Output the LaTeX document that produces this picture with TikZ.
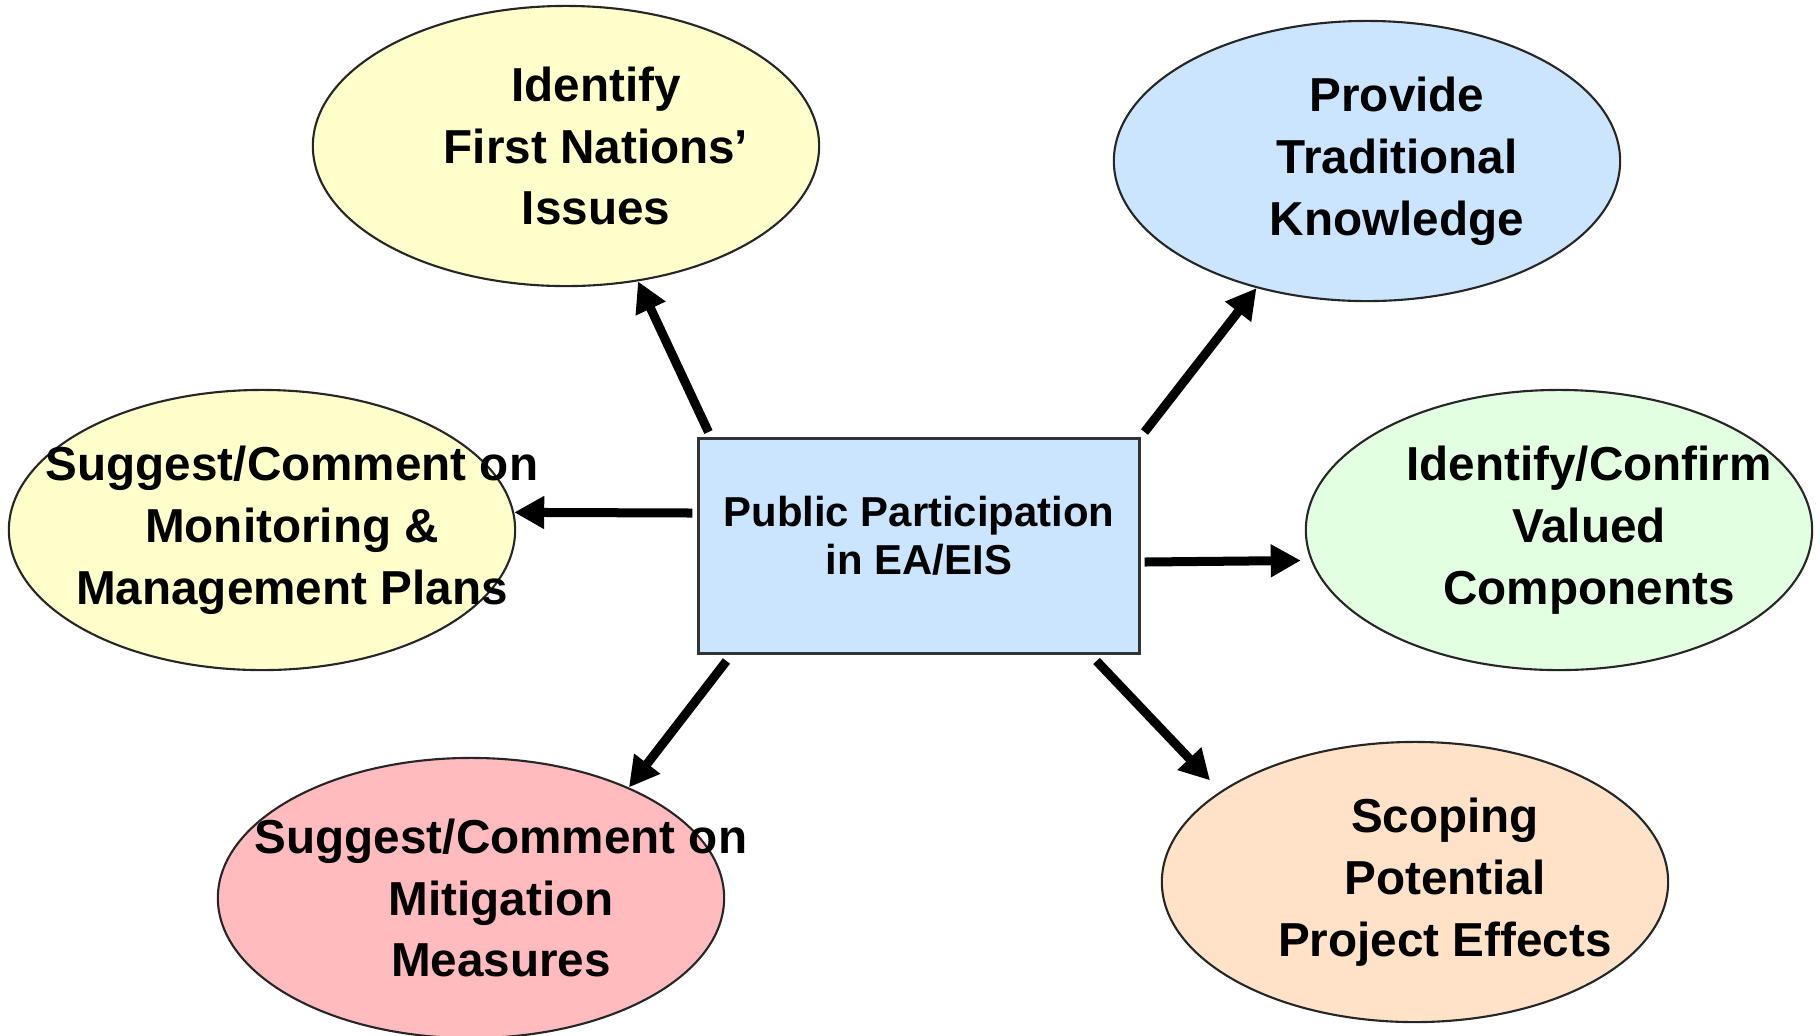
\documentclass[tikz,border=0pt]{standalone}
\usepackage{fontspec}
\setmainfont{Liberation Sans}
\usetikzlibrary{shapes.geometric,arrows.meta}

\definecolor{boxblue}{RGB}{204,229,255}
\definecolor{paleyellow}{RGB}{255,255,204}
\definecolor{palegreen}{RGB}{226,255,226}
\definecolor{palepink}{RGB}{255,187,190}
\definecolor{palepeach}{RGB}{255,226,200}

\begin{document}
\begin{tikzpicture}[x=0.01cm,y=-0.01cm,
	bubble/.style={ellipse,draw=black!85,line width=0.6pt,minimum width=5.06cm,minimum height=2.8cm,inner sep=0pt},
	bubbletext/.style={align=center,inner sep=0pt,xshift=3mm,font=\fontsize{13.55}{17.6}\selectfont\bfseries},
	hubtext/.style={align=center,inner sep=0pt,yshift=1mm,font=\fontsize{11.9}{13.6}\selectfont\bfseries},
	flow/.style={line width=0.09cm,-{Triangle[length=3mm,width=3.1mm]}}]
	\useasboundingbox (0,0) rectangle (1820,1035);
	
	% centre box
	\node [draw=black!80,line width=0.8pt,fill=boxblue,minimum width=4.4cm,minimum height=2.15cm,inner sep=0pt,
	label={[hubtext]center:{Public Participation\\in EA/EIS}}] (hub) at (919,546) {};
	
	% outcomes
	\node [bubble,fill=paleyellow,label={[bubbletext]center:{Identify\\First Nations’\\Issues}}] (fni) at (566,146) {};
	\node [bubble,fill=boxblue,label={[bubbletext]center:{Provide\\Traditional\\Knowledge}}] (tk) at (1367,161) {};
	\node [bubble,fill=paleyellow,label={[bubbletext]center:{Suggest/Comment on\\Monitoring \&\\Management Plans}}] (mon) at (262,530) {};
	\node [bubble,fill=palegreen,label={[bubbletext]center:{Identify/Confirm\\Valued\\Components}}] (vc) at (1559,530) {};
	\node [bubble,fill=palepink,label={[bubbletext]center:{Suggest/Comment on\\Mitigation\\Measures}}] (mit) at (471,898) {};
	\node [bubble,fill=palepeach,label={[bubbletext]center:{Scoping\\Potential\\Project Effects}}] (pe) at (1415,882) {};
	
	% arrows out of the box
	\draw [flow] ([shift={(11,-5)}]hub.north west) -- (fni.-62);
	\draw [flow] ([shift={(4,-5)}]hub.north east) -- (tk.229);
	\draw [flow] ([shift={(-5,-33)}]hub.west) -- (mon.4);
	\draw [flow] ([shift={(4,16)}]hub.east) -- ([xshift=-1mm]vc.187);
	\draw [flow] ([shift={(29,6)}]hub.south west) -- (mit.35);
	\draw [flow,shorten >=1.5mm] ([shift={(-44,6)}]hub.south east) -- (pe.155);
\end{tikzpicture}
\end{document}
